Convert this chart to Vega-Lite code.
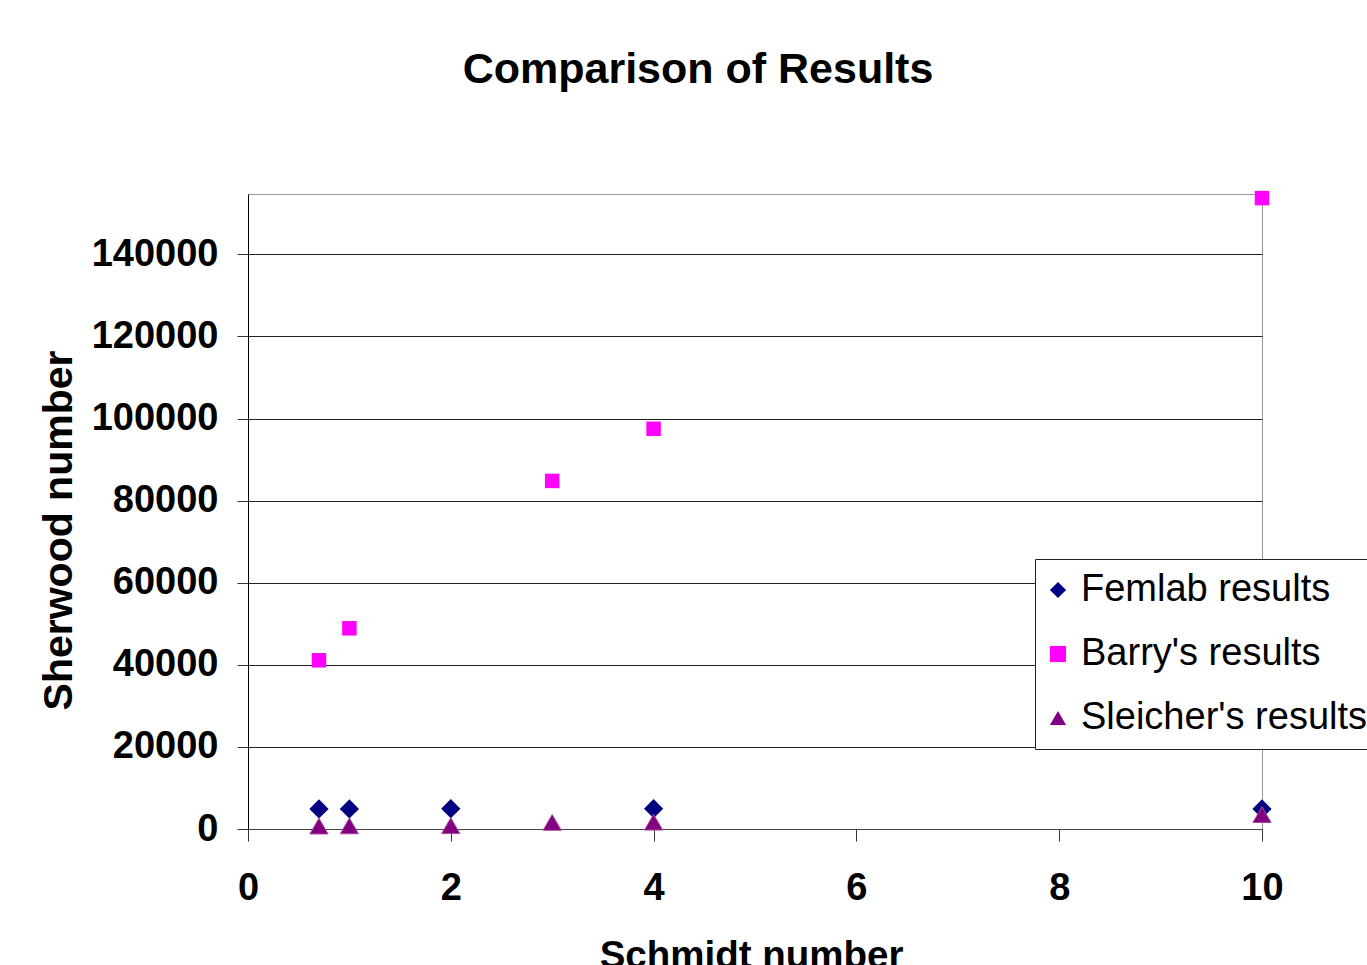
{
  "$schema": "https://vega.github.io/schema/vega-lite/v6.json",
  "width": 1014,
  "height": 635,
  "autosize": {"type": "none"},
  "padding": {"left": 248, "top": 194, "right": 105, "bottom": 136},
  "background": "white",
  "config": {
    "font": "Liberation Sans",
    "view": {"stroke": "#999999", "strokeWidth": 1}
  },
  "title": {
    "text": "Comparison of Results",
    "fontSize": 43,
    "fontWeight": "bold",
    "color": "black",
    "anchor": "middle",
    "frame": "group",
    "dx": -57,
    "baseline": "alphabetic",
    "offset": 65
  },
  "data": {
    "values": [
      {"series": "Femlab results", "schmidt": 0.7, "sherwood": 4900},
      {"series": "Femlab results", "schmidt": 1, "sherwood": 4900},
      {"series": "Femlab results", "schmidt": 2, "sherwood": 4950},
      {"series": "Femlab results", "schmidt": 4, "sherwood": 4950},
      {"series": "Femlab results", "schmidt": 10, "sherwood": 4900},
      {"series": "Barry's results", "schmidt": 0.7, "sherwood": 41100},
      {"series": "Barry's results", "schmidt": 1, "sherwood": 48900},
      {"series": "Barry's results", "schmidt": 3, "sherwood": 84800},
      {"series": "Barry's results", "schmidt": 4, "sherwood": 97500},
      {"series": "Barry's results", "schmidt": 10, "sherwood": 153700},
      {"series": "Sleicher's results", "schmidt": 0.7, "sherwood": 700},
      {"series": "Sleicher's results", "schmidt": 1, "sherwood": 750},
      {"series": "Sleicher's results", "schmidt": 2, "sherwood": 800},
      {"series": "Sleicher's results", "schmidt": 3, "sherwood": 1600},
      {"series": "Sleicher's results", "schmidt": 4, "sherwood": 1650},
      {"series": "Sleicher's results", "schmidt": 10, "sherwood": 3500}
    ]
  },
  "encoding": {
    "x": {
      "field": "schmidt",
      "type": "quantitative",
      "scale": {"domain": [0, 10], "nice": false, "zero": false},
      "axis": {
        "values": [0, 2, 4, 6, 8, 10],
        "grid": false,
        "format": "d",
        "labelFlush": false,
        "labelOverlap": false,
        "labelFontSize": 38,
        "labelFontWeight": "bold",
        "labelColor": "black",
        "labelPadding": 28,
        "tickSize": 12,
        "tickColor": "#333333",
        "domainColor": "#444444",
        "title": "Schmidt number",
        "titleFontSize": 38.5,
        "titleFontWeight": "bold",
        "titleColor": "black",
        "titleX": 503,
        "titleY": 108,
        "titleBaseline": "top",
        "titleAlign": "center"
      }
    },
    "y": {
      "field": "sherwood",
      "type": "quantitative",
      "scale": {"domain": [0, 154700], "nice": false, "zero": true},
      "axis": {
        "values": [0, 20000, 40000, 60000, 80000, 100000, 120000, 140000],
        "format": "d",
        "grid": true,
        "gridColor": "#222222",
        "gridWidth": 1,
        "labelFontSize": 38,
        "labelFontWeight": "bold",
        "labelColor": "black",
        "labelPadding": 19,
        "labelOverlap": false,
        "tickSize": 11,
        "tickColor": "#333333",
        "domainColor": "#000000",
        "title": "Sherwood number",
        "titleFontSize": 41,
        "titleFontWeight": "bold",
        "titleColor": "black",
        "titleAngle": -90,
        "titleX": -177,
        "titleY": 336,
        "titleBaseline": "alphabetic",
        "titleAlign": "center"
      }
    },
    "color": {
      "field": "series",
      "type": "nominal",
      "scale": {
        "domain": ["Femlab results", "Barry's results", "Sleicher's results"],
        "range": ["#000080", "#FF00FF", "#800080"]
      },
      "legend": {
        "title": null,
        "orient": "none",
        "legendX": 787,
        "legendY": 365,
        "strokeColor": "#222222",
        "fillColor": "white",
        "padding": 12,
        "rowPadding": 26,
        "labelFontSize": 38,
        "labelColor": "black",
        "labelFont": "Liberation Sans",
        "labelLimit": 600,
        "symbolSize": 260,
        "symbolOffset": -8,
        "labelOffset": 4
      }
    },
    "shape": {
      "field": "series",
      "type": "nominal",
      "scale": {
        "domain": ["Femlab results", "Barry's results", "Sleicher's results"],
        "range": ["diamond", "square", "triangle-up"]
      }
    }
  },
  "layer": [
    {
      "transform": [{"filter": "datum.series === 'Femlab results'"}],
      "mark": {"type": "point", "filled": true, "opacity": 1, "strokeWidth": 0, "size": 370}
    },
    {
      "transform": [{"filter": "datum.series === \"Barry's results\""}],
      "mark": {"type": "point", "filled": true, "opacity": 1, "strokeWidth": 0, "size": 210}
    },
    {
      "transform": [{"filter": "datum.series === \"Sleicher's results\""}],
      "mark": {"type": "point", "filled": true, "opacity": 1, "stroke": "#A84C9C", "strokeWidth": 1, "size": 330}
    }
  ]
}
